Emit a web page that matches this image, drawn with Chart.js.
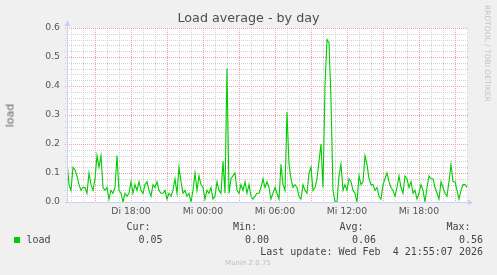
<!DOCTYPE html>
<html>
<head>
<meta charset="utf-8">
<script src="https://cdn.jsdelivr.net/npm/chart.js@4/dist/chart.umd.min.js"></script>
<style>
  body { margin: 0; background: #f0f0f0; }
  #wrap { position: relative; width: 497px; height: 275px; background: #f0f0f0; overflow: hidden; }
  canvas { position: absolute; left: 0; top: 0; }
  .t { position: absolute; white-space: pre; }
  .sans { font-family: "DejaVu Sans", sans-serif; }
  .mono { font-family: "DejaVu Sans Mono", monospace; font-size: 10px; line-height: 12px; color: #444; }
</style>
</head>
<body>
<div id="wrap">
  <canvas id="chart" width="497" height="275"></canvas>
  <div class="t sans" style="left:0;width:497px;top:10px;text-align:center;font-size:12.7px;color:#4d4d4d;">Load average - by day</div>
  <div class="t sans" style="left:-2px;top:109px;width:24px;font-size:11px;color:#666;transform:rotate(-90deg);text-align:center;">load</div>
  <div class="t sans" style="left:483px;top:5px;font-size:7.5px;color:#c4c4c4;writing-mode:vertical-rl;">RRDTOOL / TOBI OETIKER</div>
  <div id="legend"></div>
  <div class="t sans" style="left:0;width:496px;top:259px;text-align:center;font-size:7px;color:#bdbdbd;">Munin 2.0.75</div>
</div>
<script>
// series: load average, one reading every 10 minutes starting Di 12:40
const startHour = 12 + 40 / 60;
const stepHours = 10 / 60;
const loadValues = [
  0.14,0.06,0.04,0.12,0.11,0.09,0.06,0.04,0.05,0.05,
  0.03,0.10,0.06,0.04,0.08,0.16,0.12,0.16,0.05,0.04,
  0.05,0.01,0.04,0.03,0.05,0.16,0.04,0.03,0.00,0.03,
  0.02,0.03,0.07,0.03,0.06,0.04,0.07,0.04,0.03,0.06,
  0.07,0.04,0.02,0.06,0.05,0.07,0.04,0.03,0.03,0.04,
  0.01,0.03,0.02,0.04,0.08,0.03,0.12,0.07,0.03,0.04,
  0.02,0.03,0.00,0.04,0.10,0.04,0.09,0.06,0.05,0.01,
  0.04,0.03,0.05,0.01,0.02,0.07,0.04,0.03,0.14,0.03,
  0.46,0.03,0.08,0.09,0.10,0.04,0.03,0.06,0.04,0.07,
  0.03,0.06,0.02,0.01,0.02,0.03,0.03,0.05,0.08,0.05,
  0.07,0.05,0.01,0.03,0.05,0.03,0.01,0.13,0.06,0.04,
  0.31,0.13,0.08,0.05,0.06,0.05,0.02,0.01,0.06,0.04,
  0.03,0.10,0.12,0.04,0.05,0.08,0.14,0.20,0.05,0.40,
  0.56,0.55,0.35,0.04,0.00,0.00,0.09,0.13,0.04,0.06,
  0.04,0.08,0.07,0.04,0.03,0.00,0.09,0.06,0.07,0.16,
  0.13,0.08,0.06,0.06,0.04,0.05,0.02,0.01,0.06,0.08,
  0.10,0.07,0.05,0.04,0.02,0.05,0.09,0.05,0.03,0.09,
  0.08,0.05,0.07,0.03,0.04,0.01,0.03,0.06,0.04,0.00,
  0.05,0.09,0.08,0.08,0.05,0.03,0.01,0.07,0.05,0.03,
  0.02,0.07,0.13,0.07,0.07,0.04,0.01,0.04,0.06,0.06,
  0.05
];

// axis ticks
const xMin = 12 + 40 / 60;
const xMax = 46 + 5 / 60;
const xTickHours = [18, 24, 30, 36, 42];
const xTickLabels = ["Di 18:00", "Mi 00:00", "Mi 06:00", "Mi 12:00", "Mi 18:00"];
const xMinorHours = [];   // grey grid every hour
for (let h = 13; h <= 46; h++) xMinorHours.push(h);
const xMajorHours = [15, 18, 21, 24, 27, 30, 33, 36, 39, 42, 45];
const yTickValues = [0, 0.1, 0.2, 0.3, 0.4, 0.5, 0.6];
const yTickLabels = ["0.0", "0.1", "0.2", "0.3", "0.4", "0.5", "0.6"];
const yMinorValues = [];  // grey grid every 0.02
for (let k = 1; k < 30; k++) yMinorValues.push(k / 50);

// legend
const statHeads = ["Cur:", "Min:", "Avg:", "Max:"];
const statValues = ["0.05", "0.00", "0.06", "0.56"];
const lastUpdate = "Last update: Wed Feb  4 21:55:07 2026";

const majorGrid = "#eba3a3";
const minorGrid = "#d2d2d2";
const axisColor = "#c9d0f4";

// legend text
const legend = document.getElementById("legend");
function addText(txt, left, right, top) {
  const d = document.createElement("div");
  d.className = "t mono";
  d.textContent = txt;
  d.style.top = top + "px";
  if (right != null) { d.style.right = (497 - right) + "px"; } else { d.style.left = left + "px"; }
  legend.append(d);
}
const colRight = [150.5, 257, 363.5, 470.5];
const valRight = [162.5, 269, 376, 483];
statHeads.forEach((h, i) => addText(h, null, colRight[i], 221));
const sq = document.createElement("div");
sq.style.cssText = "position:absolute;left:14px;top:237px;width:6px;height:6px;background:#00cc00;";
legend.append(sq);
addText("load", 26.5, null, 234);
statValues.forEach((v, i) => addText(v, null, valRight[i], 234));
addText(lastUpdate, null, 483, 246);

const points = loadValues.map((v, i) => ({ x: startHour + i * stepHours, y: v }));

// dotted rrdtool style grid, white plot, axes with arrows
const rrdLook = {
  id: "rrdLook",
  beforeDatasetsDraw(chart) {
    const { ctx, chartArea: a, scales } = chart;
    const xs = scales.x, ys = scales.y;
    ctx.save();
    ctx.fillStyle = "#ffffff";
    ctx.fillRect(a.left, a.top, a.right - a.left, a.bottom - a.top);
    const vline = (h, col) => {
      const px = Math.round(xs.getPixelForValue(h));
      ctx.fillStyle = col;
      for (let y = Math.round(a.top); y < a.bottom; y += 2) ctx.fillRect(px, y, 1, 1);
    };
    const hline = (v, col) => {
      const py = Math.round(ys.getPixelForValue(v));
      ctx.fillStyle = col;
      for (let x = Math.round(a.left) - 2; x < a.right; x += 2) ctx.fillRect(x, py, 1, 1);
    };
    xMinorHours.forEach(h => { if (!xMajorHours.includes(h)) vline(h, minorGrid); });
    yMinorValues.forEach(v => { if (!yTickValues.some(t => Math.abs(t - v) < 1e-6)) hline(v, minorGrid); });
    xMajorHours.forEach(h => vline(h, majorGrid));
    yTickValues.forEach(v => { if (v > 0) hline(v, majorGrid); });
    ctx.restore();
  },
  afterDraw(chart) {
    const { ctx, chartArea: a } = chart;
    const L = Math.round(a.left), B = Math.round(a.bottom), R = Math.round(a.right), T = Math.round(a.top);
    ctx.save();
    ctx.fillStyle = axisColor;
    // left axis + arrow
    ctx.fillRect(L, T - 5, 1, B - T + 6);
    ctx.beginPath();
    ctx.moveTo(L + 0.5, T - 8);
    ctx.lineTo(L - 2.5, T - 2);
    ctx.lineTo(L + 3.5, T - 2);
    ctx.closePath();
    ctx.fill();
    // bottom axis + arrow
    ctx.fillRect(L - 2, B, R - L + 3, 1);
    ctx.beginPath();
    ctx.moveTo(R + 5, B + 0.5);
    ctx.lineTo(R, B - 2.5);
    ctx.lineTo(R, B + 3.5);
    ctx.closePath();
    ctx.fill();
    ctx.restore();
  }
};

new Chart(document.getElementById("chart"), {
  type: "line",
  data: {
    datasets: [{
      label: "load",
      data: points,
      borderColor: "#00cc00",
      borderWidth: 1.1,
      pointRadius: 0,
      tension: 0,
      fill: false
    }]
  },
  options: {
    responsive: false,
    animation: false,
    events: [],
    layout: { padding: { top: 28, right: 29, left: 0, bottom: 0 } },
    plugins: { legend: { display: false }, title: { display: false }, tooltip: { enabled: false } },
    scales: {
      x: {
        type: "linear",
        min: xMin,
        max: xMax,
        afterFit(scale) { scale.height = 73; },
        afterBuildTicks(scale) {
          scale.ticks = xTickHours.map(h => ({ value: h }));
        },
        grid: { display: false, drawTicks: false },
        border: { display: false },
        ticks: {
          autoSkip: false,
          maxRotation: 0,
          padding: 4,
          color: "#555",
          font: { family: "DejaVu Sans", size: 9.3 },
          callback(v) {
            const k = xTickHours.indexOf(v);
            return k >= 0 ? xTickLabels[k] : "";
          }
        }
      },
      y: {
        min: 0,
        max: 0.6,
        afterFit(scale) { scale.width = 67; },
        afterBuildTicks(scale) {
          scale.ticks = yTickValues.map(v => ({ value: v }));
        },
        grid: { display: false, drawTicks: false },
        border: { display: false },
        ticks: {
          autoSkip: false,
          padding: 7,
          color: "#555",
          font: { family: "DejaVu Sans", size: 9.3 },
          callback(v) {
            const k = yTickValues.findIndex(y => Math.abs(y - v) < 1e-6);
            return k >= 0 ? yTickLabels[k] : "";
          }
        }
      }
    }
  },
  plugins: [rrdLook]
});
</script>
</body>
</html>
